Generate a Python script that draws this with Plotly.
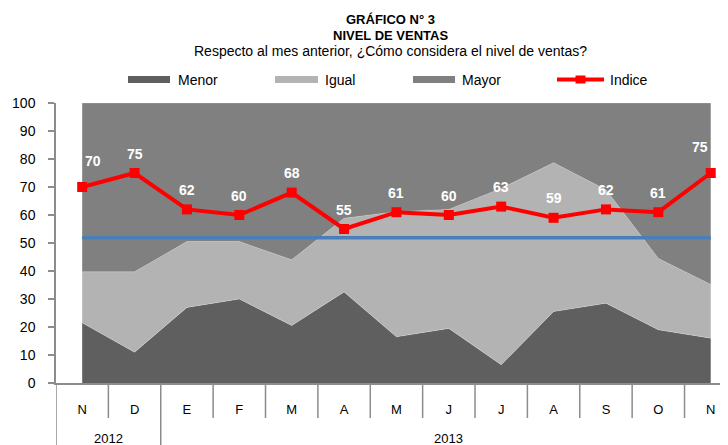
import plotly.graph_objects as go

# ---------------- data ----------------
meses = ["N", "D", "E", "F", "M", "A", "M", "J", "J", "A", "S", "O", "N"]
anios = ["2012", "2013"]
menor = [21.5, 11.0, 27.0, 30.0, 20.5, 32.5, 16.5, 19.5, 6.5, 25.5, 28.5, 19.0, 16.0]
igual = [18.2, 28.7, 23.5, 20.5, 23.5, 26.3, 44.7, 42.5, 63.0, 53.2, 40.5, 25.5, 19.2]
mayor = [60.3, 60.3, 49.5, 49.5, 56.0, 41.2, 38.8, 38.0, 30.5, 21.3, 31.0, 55.5, 64.8]
indice = [70, 75, 62, 60, 68, 55, 61, 60, 63, 59, 62, 61, 75]
referencia = [51.9, 51.9, 51.9, 51.9, 51.9, 51.9, 51.9, 51.9, 51.9, 51.9, 51.9, 51.9, 51.9]

# ---------------- style ----------------
FONT = "Liberation Sans, Arial, sans-serif"
C_MENOR = "#5f5f5f"
C_IGUAL = "#b3b3b3"
C_MAYOR = "#808080"
C_RED = "#ff0000"
C_BLUE = "#4a7ebb"
C_AXIS = "#8c8c8c"

# the page body adds an 8px margin, so the figure is shifted by 8px
OFF = 8
W, H = 728 - OFF, 445 - OFF
L, R, T, B = 56 - OFF, 0, 103 - OFF, 62
PW, PH = W - L - R, H - T - B

def px_x(p):
    """page pixel x -> paper coordinate"""
    return (p - OFF - L) / PW

def px_y(p):
    """page pixel y -> paper coordinate"""
    return (H - B - (p - OFF)) / PH

x = list(range(len(meses)))

fig = go.Figure()
for name, vals, col in [("Menor", menor, C_MENOR), ("Igual", igual, C_IGUAL), ("Mayor", mayor, C_MAYOR)]:
    fig.add_trace(go.Scatter(
        x=x, y=vals, name=name, stackgroup="one", mode="lines",
        line=dict(width=0.6, color="rgba(255,255,255,0.35)"), fillcolor=col,
        showlegend=False, hoverinfo="skip"))

fig.add_trace(go.Scatter(
    x=x, y=referencia, mode="lines", line=dict(color=C_BLUE, width=3.5),
    showlegend=False, hoverinfo="skip"))

fig.add_trace(go.Scatter(
    x=x, y=indice, name="Indice", mode="lines+markers",
    line=dict(color=C_RED, width=4),
    marker=dict(symbol="square", size=10, color=C_RED),
    showlegend=False))

annotations = []
n = len(indice)
for i, v in enumerate(indice):
    xs, ys = 0, 19.5
    if i == 0:
        xs, ys = 11, 26
    elif i == n - 1:
        xs, ys = -11, 26
    annotations.append(dict(x=i, y=v, xref="x", yref="y", text=f"<b>{v}</b>",
                            showarrow=False, xshift=xs, yshift=ys,
                            font=dict(family=FONT, size=14, color="white")))

# title lines
for txt, py, bold, fs in [("GRÁFICO N° 3", 20, True, 13), ("NIVEL DE VENTAS", 35, True, 13),
                          ("Respecto al mes anterior, ¿Cómo considera el nivel de ventas?", 51, False, 14)]:
    annotations.append(dict(x=px_x(390), y=px_y(py), xref="paper", yref="paper",
                            text=f"<b>{txt}</b>" if bold else txt, showarrow=False,
                            xanchor="center", yanchor="middle",
                            font=dict(family=FONT, size=fs, color="black")))

# legend (manual)
shapes = []
leg_y = 79.5
for name, col, x0, x1, tx in [("Menor", C_MENOR, 128, 170, 176), ("Igual", C_IGUAL, 275, 318, 323),
                              ("Mayor", C_MAYOR, 413, 455, 460)]:
    shapes.append(dict(type="rect", xref="paper", yref="paper",
                       x0=px_x(x0), x1=px_x(x1), y0=px_y(leg_y + 3.5), y1=px_y(leg_y - 3.5),
                       fillcolor=col, line=dict(width=0)))
    annotations.append(dict(x=px_x(tx), y=px_y(leg_y), xref="paper", yref="paper", text=name,
                            showarrow=False, xanchor="left", yanchor="middle",
                            font=dict(family=FONT, size=14, color="black")))
shapes.append(dict(type="line", xref="paper", yref="paper", x0=px_x(557), x1=px_x(604),
                   y0=px_y(leg_y), y1=px_y(leg_y), line=dict(color=C_RED, width=4)))
shapes.append(dict(type="rect", xref="paper", yref="paper", x0=px_x(575.5), x1=px_x(585.5),
                   y0=px_y(leg_y + 4), y1=px_y(leg_y - 4), fillcolor=C_RED, line=dict(width=0)))
annotations.append(dict(x=px_x(608), y=px_y(leg_y), xref="paper", yref="paper", text="Indice",
                        showarrow=False, xanchor="left", yanchor="middle",
                        font=dict(family=FONT, size=14, color="black")))

# category separators
for i in range(len(meses)):
    xb = i - 0.5
    full = (i == 0) or (meses[i] == "E")
    shapes.append(dict(type="line", xref="x", yref="paper", x0=xb, x1=xb, y0=0,
                       y1=-0.3 if full else -35 / PH, line=dict(color=C_AXIS, width=1.5)))

# year labels
for yr, xc in [(anios[0], 0.5), (anios[1], 7)]:
    annotations.append(dict(x=xc, y=px_y(438), xref="x", yref="paper", text=yr,
                            showarrow=False, xanchor="center", yanchor="middle",
                            font=dict(family=FONT, size=13, color="black")))

fig.update_layout(
    width=W, height=H, margin=dict(l=L, r=R, t=T, b=B, pad=0),
    paper_bgcolor="white", plot_bgcolor="white",
    font=dict(family=FONT, size=14, color="black"),
    showlegend=False, annotations=annotations, shapes=shapes,
    xaxis=dict(range=[-0.5, 12.33], tickmode="array", tickvals=x, ticktext=meses,
               showline=True, linecolor=C_AXIS, linewidth=1.5, ticks="",
               showgrid=False, zeroline=False, ticklabelstandoff=14,
               tickfont=dict(family=FONT, size=13, color="black"), fixedrange=True),
    yaxis=dict(range=[0, 100], tickmode="linear", tick0=0, dtick=10,
               showline=True, linecolor=C_AXIS, linewidth=1.5, ticks="outside",
               ticklen=6, tickcolor=C_AXIS, tickwidth=1.5, showgrid=False,
               zeroline=False, ticklabelstandoff=10,
               tickfont=dict(family=FONT, size=14, color="black"), fixedrange=True),
)

fig.write_html("out.html")
